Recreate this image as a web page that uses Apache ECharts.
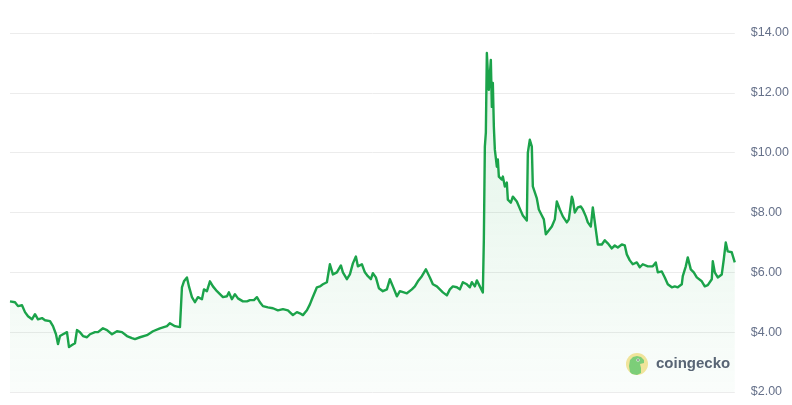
<!DOCTYPE html>
<html>
<head>
<meta charset="utf-8">
<script src="https://cdn.jsdelivr.net/npm/echarts@6/dist/echarts.min.js"></script>
<style>
  html,body{margin:0;padding:0;background:#fff;}
  #c{width:792px;height:405px;}
</style>
</head>
<body>
<div id="c"></div>
<script>
// time step (relative position along the period) and price in USD
var t = [0,2,5,8,12,15,18,22,25,28,32,35,40,43,46,48,50,53,57,59,62,65,67,70,73,77,80,85,88,93,97,102,107,112,117,122,125,130,137,143,150,157,160,165,170,172,174,177,179,182,185,188,192,194,197,200,203,207,210,213,217,219,222,225,228,233,237,240,244,247,250,253,258,263,268,273,278,283,287,290,293,297,300,302,307,310,313,317,320,323,327,331,333,337,340,343,346,348,352,355,358,361,363,366,369,373,377,380,383,387,390,394,397,402,405,408,412,416,420,423,427,430,433,437,440,443,447,450,453,457,460,462,465,467,470,473,474,475,476,477,478,479,481,482,483,484,485,487,488,489,492,493,495,497,498,501,503,507,510,513,517,518,520,522,523,525,527,529,532,534,536,538,542,545,547,550,553,557,559,562,563,565,568,571,573,576,578,581,583,584,586,588,592,595,598,602,605,608,612,615,617,620,623,627,630,633,638,643,646,648,652,655,658,662,665,668,672,673,676,678,681,684,687,692,695,698,702,703,705,708,712,714,716,718,722,725];
var price = [5.03,5.03,5.00,4.87,4.90,4.67,4.53,4.43,4.60,4.43,4.47,4.40,4.37,4.20,3.93,3.60,3.87,3.93,4.00,3.50,3.57,3.63,4.07,4.00,3.87,3.83,3.93,4.00,4.00,4.13,4.07,3.93,4.03,4.00,3.87,3.80,3.77,3.83,3.90,4.03,4.13,4.20,4.30,4.20,4.17,5.50,5.70,5.83,5.53,5.17,5.00,5.17,5.10,5.43,5.37,5.70,5.53,5.37,5.27,5.17,5.20,5.33,5.10,5.27,5.13,5.03,5.03,5.07,5.07,5.17,5.00,4.87,4.83,4.80,4.73,4.77,4.73,4.57,4.67,4.63,4.57,4.73,4.93,5.10,5.50,5.53,5.60,5.67,6.27,5.93,6.00,6.23,6.00,5.77,5.93,6.30,6.53,6.20,6.27,6.00,5.87,5.77,5.97,5.83,5.47,5.37,5.43,5.77,5.53,5.20,5.37,5.33,5.30,5.43,5.53,5.70,5.87,6.10,5.83,5.60,5.53,5.43,5.33,5.23,5.43,5.53,5.50,5.43,5.67,5.60,5.50,5.67,5.53,5.73,5.53,5.33,7.10,10.20,10.67,13.33,12.67,12.10,13.10,11.53,12.33,10.87,10.10,9.53,9.77,9.20,9.10,9.20,8.87,9.00,8.43,8.33,8.53,8.37,8.13,7.90,7.73,10.00,10.43,10.20,8.87,8.67,8.47,8.10,7.90,7.77,7.27,7.33,7.53,7.77,8.37,8.10,7.87,7.67,7.77,8.53,8.43,8.00,8.17,8.20,8.10,7.87,7.67,7.53,8.17,7.93,7.43,6.93,6.93,7.07,6.97,6.80,6.90,6.83,6.93,6.90,6.60,6.40,6.27,6.33,6.17,6.27,6.20,6.20,6.33,6.00,6.03,5.83,5.60,5.50,5.53,5.50,5.60,5.87,6.20,6.50,6.10,6.00,5.83,5.70,5.53,5.57,5.77,6.37,6.00,5.83,5.93,6.43,7.00,6.70,6.67,6.33];
var yTicks = [2,4,6,8,10,12,14];

var data = t.map(function(v,i){ return [v, price[i]]; });
var chart = echarts.init(document.getElementById('c'), null, {renderer:'canvas'});
var green = '#1ba34a';
chart.setOption({
  animation:false,
  grid:{left:10,right:56,top:33,bottom:13},
  xAxis:{type:'value',min:t[0],max:t[t.length-1],show:false},
  yAxis:{type:'value',position:'right',min:yTicks[0],max:yTicks[yTicks.length-1],interval:2,
    axisLine:{show:false},axisTick:{show:false},
    splitLine:{lineStyle:{color:'#ececec',width:1}},
    axisLabel:{margin:16,color:'#66718a',fontSize:12.5,fontFamily:'Liberation Sans, Arial, sans-serif',verticalAlign:'middle',padding:[0,0,8,0],
      formatter:function(v){return '$'+v.toFixed(2);}}},
  series:[{type:'line',data:data,showSymbol:false,symbol:'none',
    lineStyle:{color:green,width:2.4,join:'round'},
    areaStyle:{origin:'start',color:new echarts.graphic.LinearGradient(0,0,0,1,[{offset:0,color:'rgba(34,170,80,0.2)'},{offset:1,color:'rgba(34,170,80,0.03)'}])}}],
  graphic:[
    {type:'circle',shape:{cx:637,cy:364,r:11},style:{fill:'#f7e69c'}},
    {type:'polygon',shape:{points:[[630,372],[629,366],[630,360],[633,357],[637,356],[641,357],[644,360],[644,363],[640,364],[641,368],[641,373],[637,375],[632,374]]},style:{fill:'#7fcf7a'}},
    {type:'circle',shape:{cx:638,cy:360,r:1.6},style:{fill:'#ffffff'}},
    {type:'circle',shape:{cx:638,cy:360,r:0.8},style:{fill:'#333'}},
    {type:'text',x:656,y:364,style:{text:'coingecko',fill:'#5b6376',font:'bold 15px "Liberation Sans", Arial, sans-serif',textVerticalAlign:'middle'}}
  ]
});
</script>
</body>
</html>
